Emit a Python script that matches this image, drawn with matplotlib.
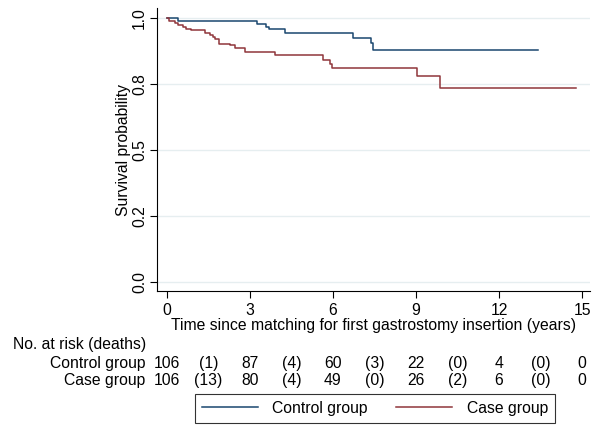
import matplotlib.pyplot as plt
import matplotlib.transforms as mtransforms

plt.rcParams['font.family'] = ['Liberation Sans', 'DejaVu Sans']

# --- Kaplan-Meier steps --- #
ctrl_t = [0, 0.39, 3.26, 3.57, 3.70, 4.28, 6.71, 7.37, 7.45]
ctrl_s = [1.0, 0.991, 0.980, 0.969, 0.958, 0.946, 0.927, 0.905, 0.881]
ctrl_end = 13.42

case_t = [0, 0.08, 0.31, 0.41, 0.59, 0.69, 0.87, 1.37, 1.55, 1.67, 1.73, 1.89,
          2.28, 2.46, 2.82, 3.90, 5.63, 5.89, 5.98, 9.02, 9.88]
case_s = [1.0, 0.991, 0.983, 0.976, 0.967, 0.961, 0.955, 0.946, 0.938, 0.929, 0.920, 0.904,
          0.898, 0.887, 0.872, 0.860, 0.843, 0.828, 0.810, 0.780, 0.736]
case_end = 14.78

# --- Risk table --- #
table_x = [0, 1.5, 3, 4.5, 6, 7.5, 9, 10.5, 12, 13.5, 15]
ctrl_risk = ['106', '(1)', '87', '(4)', '60', '(3)', '22', '(0)', '4', '(0)', '0']
case_risk = ['106', '(13)', '80', '(4)', '49', '(0)', '26', '(2)', '6', '(0)', '0']

yticks = [0, 0.25, 0.5, 0.75, 1.0]
ytick_labels = ['0.0', '0.2', '0.5', '0.8', '1.0']
xticks = [0, 3, 6, 9, 12, 15]

blue = '#1a476f'
red = '#90353b'
fs = 11.3

fig = plt.figure(figsize=(5.92, 4.26), dpi=100)
ax = fig.add_axes([0.265, 0.317, 0.732, 0.664])

ax.step(ctrl_t + [ctrl_end], ctrl_s + [ctrl_s[-1]], where='post', color=blue, lw=1.1,
        label='Control group')
ax.step(case_t + [case_end], case_s + [case_s[-1]], where='post', color=red, lw=1.1,
        label='Case group')

ax.set_xlim(-0.36, 15.29)
ax.set_ylim(-0.034, 1.039)
ax.set_yticks(yticks)
ax.set_yticklabels(ytick_labels, rotation=90, va='center', fontsize=fs)
ax.set_xticks(xticks)
ax.set_xticklabels([str(v) for v in xticks], fontsize=fs)
ax.tick_params(direction='out', length=5, width=0.8, color='black', pad=2)
ax.tick_params(axis='x', pad=4)
ax.yaxis.grid(True, color='#e6eef0', lw=1)
ax.set_axisbelow(True)
for side in ['top', 'right']:
    ax.spines[side].set_visible(False)
ax.set_ylabel('Survival probability', fontsize=fs, labelpad=1)
ax.set_xlabel('Time since matching for first gastrostomy insertion (years)', fontsize=fs, labelpad=0)

trans = mtransforms.blended_transform_factory(ax.transData, fig.transFigure)
fig.text(0.022, 0.192, 'No. at risk (deaths)', fontsize=fs, va='center', ha='left')
fig.text(0.245, 0.147, 'Control group', fontsize=fs, va='center', ha='right')
fig.text(0.245, 0.106, 'Case group', fontsize=fs, va='center', ha='right')
for i in range(len(table_x)):
    ax.text(table_x[i], 0.147, ctrl_risk[i], transform=trans, fontsize=fs, ha='center', va='center')
    ax.text(table_x[i], 0.106, case_risk[i], transform=trans, fontsize=fs, ha='center', va='center')

leg = fig.legend(loc='center', bbox_to_anchor=(0.633, 0.042), ncol=2, fontsize=fs,
                 frameon=True, fancybox=False, edgecolor='black', handlelength=3.6,
                 columnspacing=1.8, borderpad=0.45, handletextpad=0.9)
leg.get_frame().set_linewidth(0.8)

fig.savefig('out.png', dpi=100)
